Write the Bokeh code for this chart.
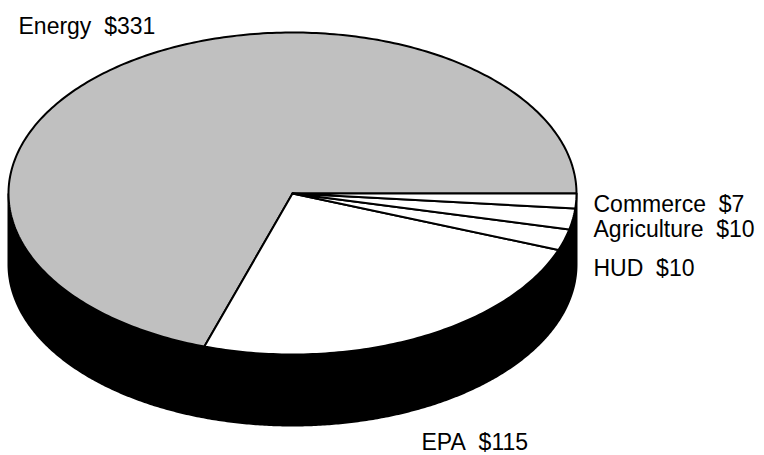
import numpy as np
from bokeh.plotting import figure
from bokeh.models import Range1d, ColumnDataSource
from bokeh.core.properties import value
from bokeh.embed import file_html
from bokeh.resources import INLINE

# Data
categories = ["Energy", "EPA", "HUD", "Agriculture", "Commerce"]
amounts = [331, 115, 10, 10, 7]
slice_colors = ["#c0c0c0", "#ffffff", "#ffffff", "#ffffff", "#ffffff"]
label_texts = ["Energy\u00a0 $331", "EPA\u00a0 $115", "HUD\u00a0 $10",
               "Agriculture\u00a0 $10", "Commerce\u00a0 $7"]

# Layout (pixel space of the page)
label_x = [18, 421, 593, 593, 593]
label_y = [25, 441, 267, 228, 203]
CX, CY, RX, RY, DEPTH = 292, 193, 284, 161, 71

W, H = 764, 455
p = figure(width=W, height=H, output_backend="svg", toolbar_location=None,
           x_range=Range1d(0, W), y_range=Range1d(H, 0),
           min_border=0, outline_line_color=None)
p.axis.visible = False
p.grid.visible = False
p.background_fill_color = "white"
p.border_fill_color = "white"

def ell(theta, dy=0.0):
    return CX + RX * np.cos(theta), CY - RY * np.sin(theta) + dy

# Side (front half) in black
t = np.linspace(np.pi, 2 * np.pi, 400)
tx, ty = ell(t)
bx, by = ell(t[::-1], DEPTH)
p.patch(np.concatenate([tx, bx]), np.concatenate([ty, by]),
        fill_color="black", line_color="black", line_width=2)

# Top slices
total = float(sum(amounts))
xs, ys = [], []
start = 0.0
for a in amounts:
    span = a / total * 2 * np.pi
    th = np.linspace(start, start + span, max(3, int(400 * a / total) + 3))
    ex, ey = ell(th)
    xs.append(np.concatenate([[CX], ex, [CX]]).tolist())
    ys.append(np.concatenate([[CY], ey, [CY]]).tolist())
    start += span

src = ColumnDataSource(dict(xs=xs, ys=ys, color=slice_colors, cat=categories))
p.patches("xs", "ys", source=src, fill_color="color", line_color="black",
          line_width=2, line_join="round")

lsrc = ColumnDataSource(dict(x=label_x, y=label_y, text=label_texts))
p.text("x", "y", text="text", source=lsrc, text_font=value("Liberation Sans"),
       text_font_size="23px", text_color="black", text_baseline="alphabetic",
       text_align="left")

open("out.html", "w").write(file_html(p, INLINE))
